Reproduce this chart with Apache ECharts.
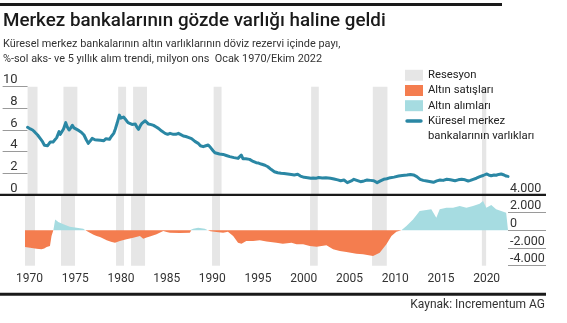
<!DOCTYPE html>
<html><head><meta charset="utf-8">
<script src="https://cdn.jsdelivr.net/npm/echarts@6/dist/echarts.min.js"></script>
<style>html,body{margin:0;padding:0;background:#fff}#c{width:567px;height:323px}</style>
</head><body><div id="c"></div>
<script>
// Gold share of FX reserves (%), left axis
const shareYears = [1970.0,1970.3,1970.55,1970.8,1971.1,1971.4,1971.64,1971.85,1972.0,1972.2,1972.37,1972.5,1972.66,1972.8,1972.98,1973.2,1973.46,1973.6,1973.75,1973.95,1974.19,1974.35,1974.56,1974.75,1974.92,1975.1,1975.28,1975.65,1975.9,1976.2,1976.45,1976.67,1976.9,1977.1,1977.4,1977.65,1978.0,1978.38,1978.6,1978.74,1979.0,1979.2,1979.47,1979.65,1979.84,1980.09,1980.25,1980.38,1980.55,1980.67,1980.85,1981.04,1981.25,1981.48,1981.65,1981.84,1982.0,1982.2,1982.4,1982.57,1982.75,1982.93,1983.1,1983.3,1983.6,1983.85,1984.1,1984.39,1984.75,1985.12,1985.4,1985.66,1986.03,1986.3,1986.58,1986.9,1987.12,1987.4,1987.67,1988.03,1988.4,1988.76,1989.0,1989.31,1989.6,1989.86,1990.1,1990.4,1990.6,1990.77,1991.1,1991.5,1991.85,1992.23,1992.7,1993.14,1993.35,1993.5,1993.68,1994.0,1994.41,1994.8,1995.14,1995.4,1995.68,1996.1,1996.42,1996.8,1997.14,1997.5,1997.87,1998.2,1998.6,1999.0,1999.33,1999.5,1999.7,2000.0,2000.42,2000.8,2001.15,2001.4,2001.69,2002.0,2002.17,2002.4,2002.6,2002.8,2002.97,2003.3,2003.7,2004.1,2004.43,2004.79,2005.0,2005.16,2005.33,2005.6,2005.88,2006.2,2006.61,2007.0,2007.34,2007.7,2008.07,2008.44,2008.8,2009.16,2009.5,2009.89,2010.3,2010.8,2011.2,2011.72,2012.1,2012.44,2012.8,2013.17,2013.5,2013.9,2014.2,2014.63,2015.0,2015.36,2015.7,2016.09,2016.5,2017.0,2017.35,2017.73,2018.1,2018.45,2018.7,2019.0,2019.35,2019.73,2020.1,2020.46,2020.7,2020.98,2021.3,2021.53,2021.8,2022.08,2022.4,2022.63,2022.83];
const shareValues = [6.25,6.1,6.0,5.8,5.54,5.2,4.92,4.6,4.52,4.55,4.6,4.9,5.08,4.9,4.83,5.3,5.85,5.6,5.45,6.1,6.68,6.3,6.0,6.2,6.43,6.2,6.06,5.94,5.8,5.54,5.1,4.77,5.0,5.23,5.1,5.08,5.05,5.0,5.2,5.38,5.14,5.4,5.69,6.1,6.62,7.38,7.1,7.23,7.2,7.32,6.9,6.68,6.55,6.52,6.4,6.55,6.3,6.06,6.4,6.62,6.8,6.86,6.7,6.55,6.5,6.43,6.3,6.15,5.9,5.69,5.6,5.69,5.6,5.6,5.69,5.55,5.45,5.4,5.32,5.2,4.95,4.77,4.55,4.46,4.55,4.62,4.4,4.09,3.9,3.78,3.78,3.75,3.65,3.54,3.45,3.38,3.5,3.69,3.35,3.35,3.29,3.1,2.98,2.95,2.86,2.75,2.61,2.35,2.15,2.05,2.0,1.98,1.94,1.9,1.85,1.82,1.91,1.75,1.63,1.6,1.54,1.56,1.54,1.62,1.69,1.58,1.54,1.6,1.6,1.55,1.48,1.4,1.32,1.38,1.25,1.14,1.14,1.3,1.45,1.35,1.23,1.3,1.38,1.35,1.32,1.14,1.3,1.45,1.5,1.6,1.65,1.75,1.8,1.85,1.9,1.85,1.7,1.45,1.35,1.29,1.25,1.17,1.3,1.38,1.35,1.45,1.4,1.32,1.4,1.45,1.4,1.29,1.35,1.45,1.55,1.69,1.8,1.94,1.85,1.78,1.85,1.82,1.9,1.94,1.85,1.75,1.72];
// 5-year purchase/sale trend, right axis
const flowYears = [1970.0,1970.55,1971.27,1971.8,1972.1,1972.37,1972.73,1972.9,1973.1,1973.3,1973.64,1974.2,1974.9,1975.65,1976.37,1976.6,1977.1,1977.5,1977.83,1978.2,1978.6,1978.93,1979.4,1979.84,1980.38,1981.1,1981.84,1982.57,1982.93,1983.3,1983.66,1984.39,1985.12,1985.5,1985.85,1986.94,1988.03,1988.2,1988.4,1988.94,1989.67,1990.0,1990.3,1990.95,1991.67,1992.2,1992.77,1993.3,1993.68,1994.2,1994.95,1995.68,1996.42,1997.5,1998.2,1999.15,1999.7,2000.42,2001.15,2001.9,2002.97,2003.7,2004.43,2005.16,2006.25,2006.97,2008.07,2008.8,2009.53,2010.08,2010.62,2011.17,2011.72,2012.44,2013.17,2013.9,2014.44,2014.99,2015.36,2016.09,2016.82,2017.55,2018.28,2019.0,2019.73,2020.1,2020.46,2021.0,2021.53,2022.08,2022.63,2022.83];
const flowValues = [-1880,-1960,-2070,-2150,-2050,-1880,-1770,-640,0,1240,940,680,420,300,190,0,-260,-500,-640,-750,-950,-1130,-1300,-1390,-1210,-1020,-830,-640,-940,-800,-710,-450,-80,-200,-260,-300,-260,0,190,300,190,0,-100,-190,-260,-150,-640,-1390,-1510,-1210,-1210,-1130,-1250,-1390,-1510,-1390,-1580,-1580,-1770,-1850,-1700,-2150,-2340,-2450,-2640,-2710,-2900,-2530,-1580,-640,-150,0,490,1240,2180,2300,2380,1430,2380,2560,2560,2750,2560,2750,3020,3310,2560,2860,2380,2180,2000,1950];
// Recession periods
const recessionStart = [1970.0,1973.94,1979.96,1981.6,1990.46,2001.18,2007.96,2019.97];
const recessionEnd   = [1971.09,1975.47,1980.83,1983.13,1991.33,2002.02,2009.57,2020.44];

const sharePts = shareYears.map((y,i)=>[y, shareValues[i]]);
const salesPts = flowYears.map((y,i)=>[y, Math.min(flowValues[i],0)]);
const buysPts  = flowYears.map((y,i)=>[y, Math.max(flowValues[i],0)]);
const bands = recessionStart.map((s,i)=>[{xAxis:s},{xAxis:recessionEnd[i]}]);

const FONT = 'Roboto';
const GRAY = '#e6e6e6', ORANGE = '#f47d4f', LBLUE = '#a6dce1', BLUE = '#2a87a4';
const LINE_NAME = 'Küresel merkez\nbankalarının varlıkları';

const chart = echarts.init(document.getElementById('c'), null, {renderer:'canvas'});
chart.setOption({
  animation:false,
  textStyle:{fontFamily:FONT},
  title:[
    {text:'Merkez bankalarının gözde varlığı haline geldi', left:3, top:9, padding:0,
     textStyle:{fontFamily:FONT, fontSize:18.8, fontWeight:500, color:'#1a1a1a', lineHeight:24}},
    {text:'Küresel merkez bankalarının altın varlıklarının döviz rezervi içinde payı,\n%-sol aks- ve 5 yıllık alım trendi, milyon ons  Ocak 1970/Ekim 2022',
     left:3, top:36.5, padding:0,
     textStyle:{fontFamily:FONT, fontSize:10.9, fontWeight:'normal', color:'#333', lineHeight:15}},
    {text:'Kaynak: Incrementum AG', right:22, top:298, padding:0,
     textStyle:{fontFamily:FONT, fontSize:12, fontWeight:'normal', color:'#333', lineHeight:14}}
  ],
  legend:[
    {orient:'vertical', left:405, top:67.7, padding:0, itemGap:0, itemWidth:18, itemHeight:11,
     selectedMode:false, textStyle:{fontFamily:FONT, fontSize:11.3, color:'#222', lineHeight:15.2},
     data:[
       {name:'Resesyon', icon:'rect', itemStyle:{color:GRAY, borderWidth:0}},
       {name:'Altın satışları', icon:'rect', itemStyle:{color:ORANGE, borderWidth:0}},
       {name:'Altın alımları', icon:'rect', itemStyle:{color:LBLUE, borderWidth:0}}
     ]},
    {orient:'vertical', left:405, top:98.5, padding:0, itemGap:0, itemWidth:18, itemHeight:11,
     selectedMode:false, textStyle:{fontFamily:FONT, fontSize:11.3, color:'#222', lineHeight:15},
     formatter:name=>'\n'+name,
     data:[
       {name:LINE_NAME, icon:'path://M0,0M18,11M2,3.8L16,3.8A1.7,1.7,0,0,1,16,7.2L2,7.2A1.7,1.7,0,0,1,2,3.8Z',
        itemStyle:{color:BLUE, borderWidth:0}}
     ]}
  ],
  grid:[
    {left:25, top:86.7, width:483, height:108.3},
    {left:25, top:195, width:483, height:70.7}
  ],
  xAxis:[
    {gridIndex:0, type:'value', min:1970, max:2022.83, show:false},
    {gridIndex:1, type:'value', min:1970, max:2022.83, interval:5,
     axisLine:{show:false}, axisTick:{show:false}, splitLine:{show:false},
     axisLabel:{margin:7, fontSize:12, color:'#333', fontFamily:FONT, padding:[0,0,0,9],
       showMaxLabel:false,
       formatter:v=> (v%5===0 && v<=2020) ? String(v) : ''}}
  ],
  yAxis:[
    {gridIndex:0, type:'value', min:0, max:10, interval:2, position:'left',
     axisLine:{show:false}, splitLine:{show:false},
     axisTick:{show:true, length:25, lineStyle:{color:'#9a9a9a', width:1}},
     axisLabel:{margin:10, align:'right', verticalAlign:'bottom', fontSize:13, color:'#333', fontFamily:FONT}},
    {gridIndex:1, type:'value', min:-4000, max:4000, interval:2000, position:'right',
     axisLine:{show:false}, splitLine:{show:false},
     axisTick:{show:true, length:38, lineStyle:{color:'#9a9a9a', width:1}},
     axisLabel:{margin:2, align:'left', verticalAlign:'bottom', fontSize:12.5, color:'#333', fontFamily:FONT,
       formatter:v=> v===0 ? '0' : (v<0?'-':'') + Math.abs(v/1000) + '.000'}}
  ],
  series:[
    {name:'Resesyon', type:'line', xAxisIndex:0, yAxisIndex:0, data:[], color:GRAY, z:1,
     markArea:{silent:true, itemStyle:{color:GRAY}, data:bands}},
    {name:'Resesyon', type:'line', xAxisIndex:1, yAxisIndex:1, data:[], color:GRAY, z:1,
     markArea:{silent:true, itemStyle:{color:GRAY}, data:bands}},
    {name:'Altın satışları', type:'line', xAxisIndex:1, yAxisIndex:1, data:salesPts, color:ORANGE,
     symbol:'none', lineStyle:{width:0}, areaStyle:{color:ORANGE, opacity:1}, z:2},
    {name:'Altın alımları', type:'line', xAxisIndex:1, yAxisIndex:1, data:buysPts, color:LBLUE,
     symbol:'none', lineStyle:{width:0}, areaStyle:{color:LBLUE, opacity:1}, z:2},
    {name:LINE_NAME, type:'line', xAxisIndex:0, yAxisIndex:0, data:sharePts, color:BLUE,
     symbol:'none', lineStyle:{width:3, color:BLUE, join:'round', cap:'round'}, z:3}
  ],
  graphic:[
    {type:'rect', left:0, top:3, shape:{width:502, height:3}, style:{fill:'#1a1a1a'}, z:100},
    {type:'rect', left:0, top:193.8, shape:{width:546, height:2.2}, style:{fill:'#1a1a1a'}, z:100},
    {type:'rect', left:0, top:292.7, shape:{width:546, height:3}, style:{fill:'#1a1a1a'}, z:100}
  ]
});
</script></body></html>
